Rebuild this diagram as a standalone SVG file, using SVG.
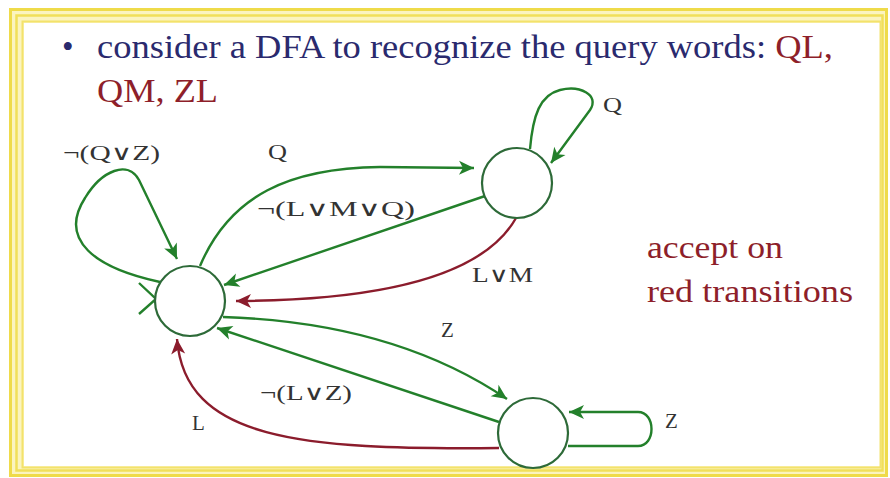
<svg xmlns="http://www.w3.org/2000/svg" width="890" height="478" viewBox="0 0 890 478">
<style>
text{font-family:'Liberation Serif','Times New Roman',Times,'DejaVu Serif',serif}
.title{font-size:33px;fill:#2a2a6e}
.red{fill:#8e1f2a}
.note{font-size:32px;fill:#8e1f2a}
.lbl{font-size:21px;fill:#333}
.node{fill:#fff;stroke:#2d6a38;stroke-width:2.2}
.g{fill:none;stroke:#23802b;stroke-width:2.4}
.r{fill:none;stroke:#8b1c2c;stroke-width:2.4}
</style>
<defs>
<marker id="ag" markerUnits="userSpaceOnUse" markerWidth="16" markerHeight="14" refX="15" refY="7" orient="auto" overflow="visible">
<path d="M0,0 L15,7 L0,14 L4,7 z" fill="#23802b"/>
</marker>
<marker id="ar" markerUnits="userSpaceOnUse" markerWidth="16" markerHeight="14" refX="15" refY="7" orient="auto" overflow="visible">
<path d="M0,0 L15,7 L0,14 L4,7 z" fill="#8b1c2c"/>
</marker>
</defs>
<rect x="0" y="0" width="890" height="478" fill="#fff"/>
<g id="frame">
<rect x="9" y="8" width="879" height="469" fill="#fbf4bf"/>
<rect x="24" y="23" width="856" height="443" fill="#fff"/>
<rect x="10.5" y="9.5" width="876" height="466" fill="none" stroke="#efdb4a" stroke-width="3"/>
<rect x="16.5" y="15.5" width="866" height="455" fill="none" stroke="#f1df5a" stroke-width="2.5"/>
<rect x="22.5" y="21.5" width="858" height="446" fill="none" stroke="#f3e26c" stroke-width="2"/>
</g>
<g id="title">
<text class="title" x="62" y="58">•</text>
<text class="title" x="97" y="58" textLength="736" lengthAdjust="spacingAndGlyphs">consider a DFA to recognize the query words: <tspan class="red">QL,</tspan></text>
<text class="title red" x="97" y="102" textLength="121" lengthAdjust="spacingAndGlyphs">QM, ZL</text>
</g>
<g id="note">
<text class="note" x="647" y="258" textLength="136" lengthAdjust="spacingAndGlyphs">accept on</text>
<text class="note" x="647" y="302" textLength="206" lengthAdjust="spacingAndGlyphs">red transitions</text>
</g>
<g id="connectors">
<path class="g" d="M160,282 C95,268 58,240 85,198 C102,170 128,160 139,180 L177,259" marker-end="url(#ag)"/>
<path class="g" d="M200,266 C230,195 290,168 380,167 L474,168" marker-end="url(#ag)"/>
<path class="g" d="M485,196 L224,285" marker-end="url(#ag)"/>
<path class="r" d="M516,218 Q470,300 236,301" marker-end="url(#ar)"/>
<path class="g" d="M223,317 C320,320 420,340 507,399" marker-end="url(#ag)"/>
<path class="g" d="M499,422 L217,328" marker-end="url(#ag)"/>
<path class="r" d="M499,448 C300,450 185,440 177,339" marker-end="url(#ar)"/>
<path class="g" d="M530,149 C533,115 540,95 560,90 C580,85 600,95 590,110 L551,163" marker-end="url(#ag)"/>
<path class="g" d="M568,446 L638,446 C656,446 656,412 638,412 L569,412" marker-end="url(#ag)"/>
<path class="g" d="M139,283 L156,299 L139,314"/>
</g>
<g id="labels">
<text class="lbl" x="63" y="160" textLength="97" lengthAdjust="spacingAndGlyphs">¬(Q∨Z)</text>
<text class="lbl" x="268" y="159" textLength="19" lengthAdjust="spacingAndGlyphs">Q</text>
<text class="lbl" x="257" y="216" textLength="158" lengthAdjust="spacingAndGlyphs">¬(L∨M∨Q)</text>
<text class="lbl" x="472" y="282" font-size="19" textLength="61" lengthAdjust="spacingAndGlyphs">L∨M</text>
<text class="lbl" x="441" y="337">Z</text>
<text class="lbl" x="260" y="400" textLength="92" lengthAdjust="spacingAndGlyphs">¬(L∨Z)</text>
<text class="lbl" x="192" y="430">L</text>
<text class="lbl" x="603" y="112" textLength="19" lengthAdjust="spacingAndGlyphs">Q</text>
<text class="lbl" x="665" y="428">Z</text>
</g>
<g id="nodeA"><circle class="node" cx="190" cy="301" r="35"/></g>
<g id="nodeB"><circle class="node" cx="517" cy="183" r="35"/></g>
<g id="nodeC"><circle class="node" cx="533" cy="433" r="35"/></g>
</svg>
